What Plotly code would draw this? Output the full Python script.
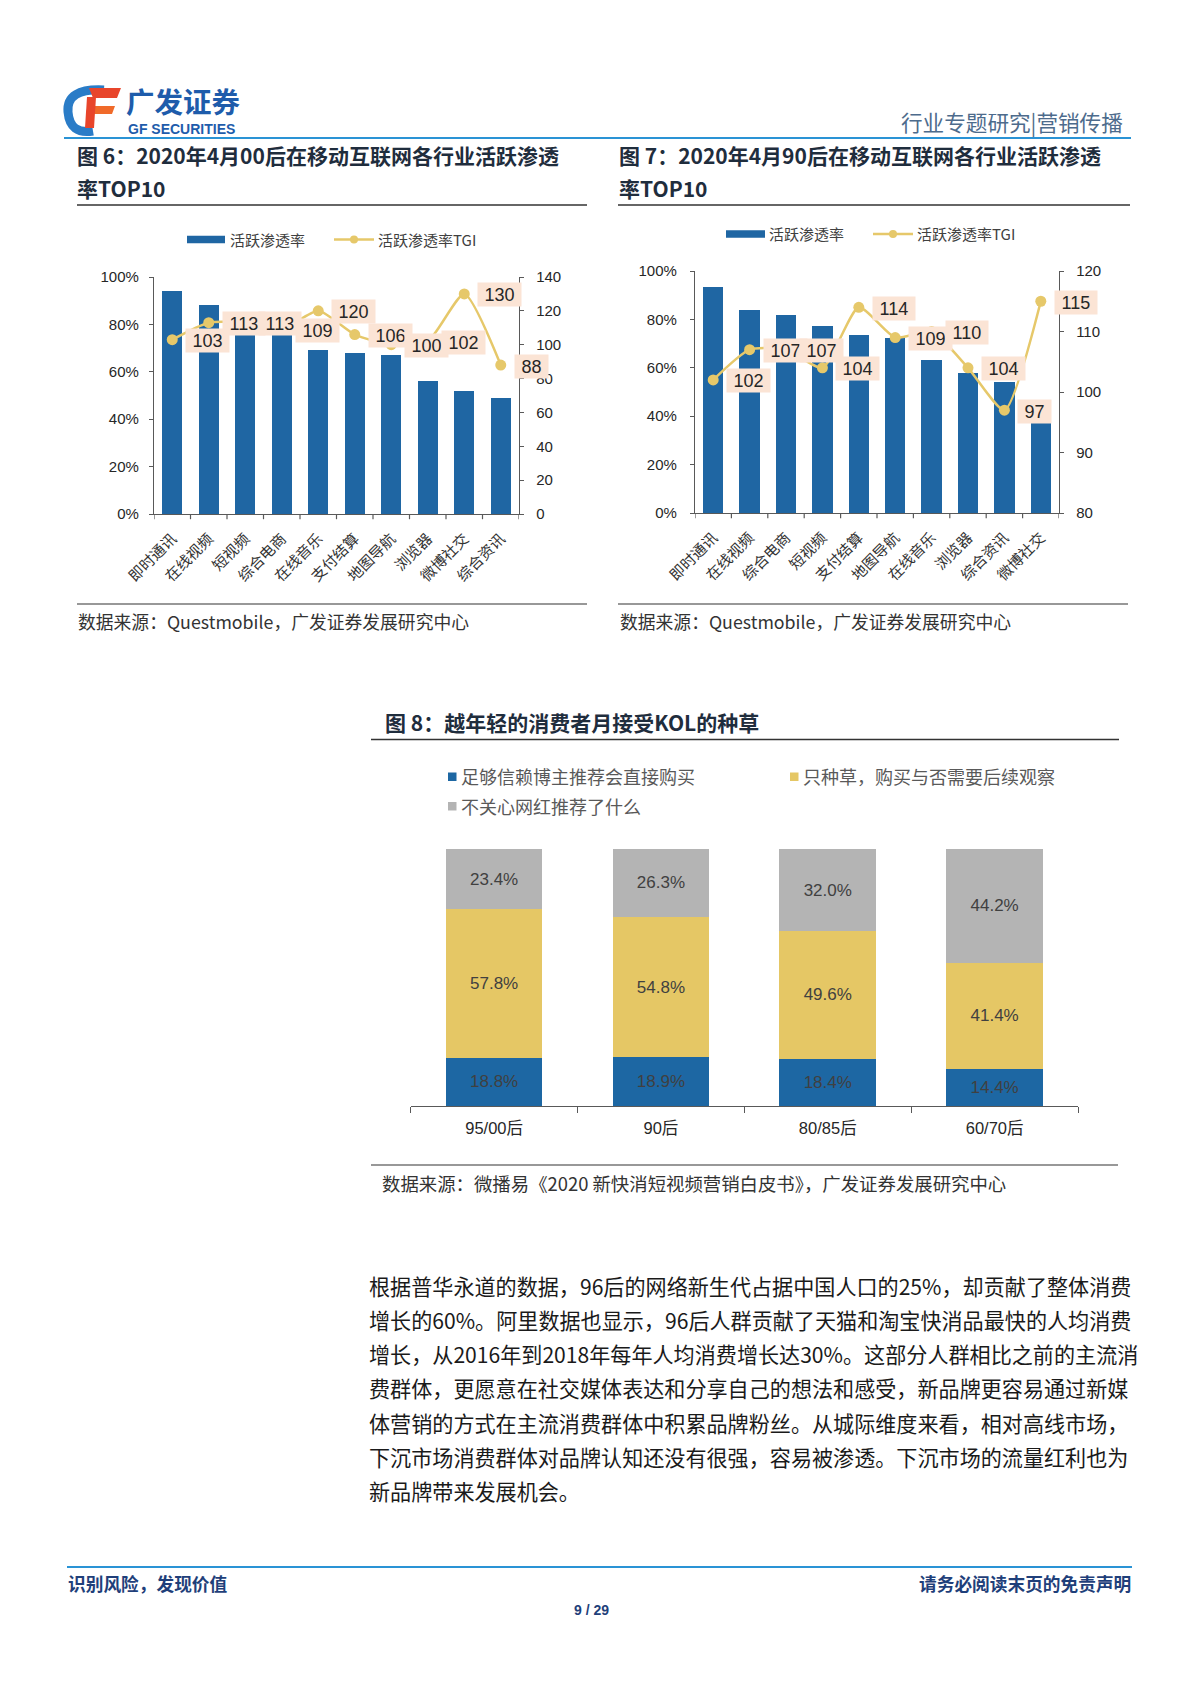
import plotly.graph_objects as go

# ---------------- data ----------------
cats6 = ['即时通讯', '在线视频', '短视频', '综合电商', '在线音乐', '支付结算', '地图导航', '浏览器', '微博社交', '综合资讯']
rate6 = [94.2, 88.1, 76.0, 75.5, 69.0, 68.0, 67.0, 56.1, 52.1, 49.0]
tgi6 = [103, 113, 113, 109, 120, 106, 100, 102, 130, 88]

cats7 = ['即时通讯', '在线视频', '综合电商', '短视频', '支付结算', '地图导航', '在线音乐', '浏览器', '综合资讯', '微博社交']
rate7 = [93.5, 83.7, 81.7, 77.2, 73.4, 72.5, 63.2, 57.8, 54.1, 46.4]
tgi7 = [102, 107, 107, 104, 114, 109, 110, 104, 97, 115]

groups8 = ['95/00后', '90后', '80/85后', '60/70后']
direct8 = [18.8, 18.9, 18.4, 14.4]
wait8 = [57.8, 54.8, 49.6, 41.4]
ignore8 = [23.4, 26.3, 32.0, 44.2]
names8 = ['足够信赖博主推荐会直接购买', '只种草，购买与否需要后续观察', '不关心网红推荐了什么']

pct_vals = [0, 20, 40, 60, 80, 100]
pct_text = ['0%', '20%', '40%', '60%', '80%', '100%']
tgi6_ticks = [0, 20, 40, 60, 80, 100, 120, 140]
tgi7_ticks = [80, 90, 100, 110, 120]

legend_bar = '活跃渗透率'
legend_line = '活跃渗透率TGI'

paragraph = [
    '根据普华永道的数据，96后的网络新生代占据中国人口的25%，却贡献了整体消费',
    '增长的60%。阿里数据也显示，96后人群贡献了天猫和淘宝快消品最快的人均消费',
    '增长，从2016年到2018年每年人均消费增长达30%。这部分人群相比之前的主流消',
    '费群体，更愿意在社交媒体表达和分享自己的想法和感受，新品牌更容易通过新媒',
    '体营销的方式在主流消费群体中积累品牌粉丝。从城际维度来看，相对高线市场，',
    '下沉市场消费群体对品牌认知还没有很强，容易被渗透。下沉市场的流量红利也为',
    '新品牌带来发展机会。',
]

# ---------------- style ----------------
W, H = 1200, 1698
BLUE = '#1F66A3'
GOLD = '#E6C86A'
YEL8 = '#E5C765'
GRAY8 = '#B4B4B4'
PEACH = '#FBE4D5'
AX = '#595959'
TXT = '#262626'
LAT = 'Liberation Sans, Noto Sans CJK SC'
CJK = 'Noto Sans CJK SC, Liberation Sans'
HBLUE = '#2A93D5'


def X(px):
    return px / W


def Y(py):
    return 1 - py / H


fig = go.Figure()

# chart 6
fig.add_trace(go.Bar(x=list(range(len(cats6))), y=rate6, xaxis='x', yaxis='y', marker=dict(color=BLUE, line=dict(width=0)),
                     width=0.56, showlegend=False, hoverinfo='skip'))
fig.add_trace(go.Scatter(x=list(range(len(cats6))), y=tgi6, xaxis='x', yaxis='y2', mode='lines+markers',
                         line=dict(color=GOLD, width=2.5, shape='spline', smoothing=0.6),
                         marker=dict(size=11, color=GOLD), showlegend=False, hoverinfo='skip', cliponaxis=False))
# chart 7
fig.add_trace(go.Bar(x=list(range(len(cats7))), y=rate7, xaxis='x2', yaxis='y3', marker=dict(color=BLUE, line=dict(width=0)),
                     width=0.56, showlegend=False, hoverinfo='skip'))
fig.add_trace(go.Scatter(x=list(range(len(cats7))), y=tgi7, xaxis='x2', yaxis='y4', mode='lines+markers',
                         line=dict(color=GOLD, width=2.5, shape='spline', smoothing=0.6),
                         marker=dict(size=11, color=GOLD), showlegend=False, hoverinfo='skip', cliponaxis=False))
# chart 8
for vals, col in zip([direct8, wait8, ignore8], ['#1D67A3', YEL8, GRAY8]):
    fig.add_trace(go.Bar(x=groups8, y=vals, xaxis='x3', yaxis='y5', marker=dict(color=col, line=dict(width=0)),
                         width=0.58, text=[f'{v:.1f}%' for v in vals], textposition='inside',
                         insidetextanchor='middle', textangle=0,
                         textfont=dict(size=17, color='#404040', family=LAT),
                         showlegend=False, hoverinfo='skip'))


def cat_axis(x0, x1, anchor, n, angle, size):
    return dict(domain=[X(x0), X(x1)], anchor=anchor, type='category', range=[-0.5, n - 0.5],
                showline=True, linecolor=AX, linewidth=1.3, ticks='outside', tickson='boundaries',
                ticklen=5, tickcolor=AX, tickwidth=1.2, tickangle=angle, showgrid=False, zeroline=False,
                tickfont=dict(size=size, color='#333333', family=CJK), fixedrange=True, automargin=False)


def val_axis(y_bot, y_top, anchor, rng, vals, texts, side='left', overlay=None, standoff=6):
    d = dict(anchor=anchor, range=rng, tickvals=vals, ticktext=texts, showline=True, linecolor=AX,
             linewidth=1.3, ticks='outside', ticklen=4, tickcolor=AX, tickwidth=1.2, showgrid=False,
             zeroline=False, side=side, tickfont=dict(size=15, color=TXT, family=LAT), fixedrange=True,
             ticklabelstandoff=standoff, automargin=False)
    if overlay:
        d['overlaying'] = overlay
    else:
        d['domain'] = [Y(y_bot), Y(y_top)]
    return d


# x-axis tick labels
xa = cat_axis(154, 519, 'y', len(cats6), -45, 15)
xa.update(tickvals=list(range(len(cats6))), ticktext=cats6)
xa2 = cat_axis(695, 1059, 'y3', len(cats7), -45, 15)
xa2.update(tickvals=list(range(len(cats7))), ticktext=cats7)
for a in (xa, xa2):
    a['type'] = 'linear'
    a['tickson'] = 'labels'
    a['ticks'] = ''
    a['ticklabelstandoff'] = 9
xa3 = cat_axis(410.7, 1078, 'y5', len(groups8), 0, 16.5)
xa3['tickfont'] = dict(size=16.5, color=TXT, family=LAT)
xa3['ticklen'] = 6
xa3['ticklabelstandoff'] = 7

fig.update_layout(
    width=W, height=H, autosize=False,
    margin=dict(l=0, r=0, t=0, b=0, pad=0, autoexpand=False),
    paper_bgcolor='white', plot_bgcolor='rgba(0,0,0,0)',
    barmode='stack', bargap=0.4,
    font=dict(family=LAT, color=TXT),
    xaxis=xa,
    yaxis=val_axis(514, 277, 'x', [0, 100], pct_vals, pct_text, standoff=7),
    yaxis2=val_axis(None, None, 'x', [0, 140], tgi6_ticks, [str(v) for v in tgi6_ticks], side='right',
                    overlay='y', standoff=9),
    xaxis2=xa2,
    yaxis3=val_axis(513, 271, 'x2', [0, 100], pct_vals, pct_text, standoff=10),
    yaxis4=val_axis(None, None, 'x2', [80, 120], tgi7_ticks, [str(v) for v in tgi7_ticks], side='right',
                    overlay='y3', standoff=9),
    xaxis3=xa3,
    yaxis5=dict(domain=[Y(1106), Y(849)], anchor='x3', range=[0, 100], visible=False, fixedrange=True,
                automargin=False),
)

shapes = []
annotations = []

# boundary ticks for chart 6 / 7 category axes (positioned via the axis scale)
for n, xr, yr in [(len(cats6), 'x', 'y'), (len(cats7), 'x2', 'y3')]:
    for k in range(n + 1):
        shapes.append(dict(type='line', xref=xr, yref=f'{yr} domain', x0=k - 0.5, x1=k - 0.5, y0=0, y1=-0.022,
                           line=dict(color=AX, width=1.2)))


def line(x0, x1, y0, y1, color, width):
    shapes.append(dict(type='line', xref='paper', yref='paper', x0=X(x0), x1=X(x1), y0=Y(y0), y1=Y(y1),
                       line=dict(color=color, width=width), layer='above'))


def rect(x0, x1, y0, y1, color):
    shapes.append(dict(type='rect', xref='paper', yref='paper', x0=X(x0), x1=X(x1), y0=Y(y0), y1=Y(y1),
                       fillcolor=color, line=dict(width=0), layer='above'))


def circ(cx, cy, r, color):
    shapes.append(dict(type='circle', xref='paper', yref='paper', x0=X(cx - r), x1=X(cx + r), y0=Y(cy - r),
                       y1=Y(cy + r), fillcolor=color, line=dict(width=0), layer='above'))


def text(x, y, s, size, color, anchor='left', family=CJK, bold=False):
    annotations.append(dict(x=X(x), y=Y(y), xref='paper', yref='paper', text=s, showarrow=False,
                            xanchor=anchor, yanchor='middle', align=anchor if anchor != 'center' else 'center',
                            font=dict(size=size, color=color, family=family, weight='bold' if bold else 'normal'),
                            borderpad=0))


def path(d, fill=None, stroke=None, width=0):
    s = dict(type='path', xref='paper', yref='paper', path=d, layer='above')
    if fill:
        s['fillcolor'] = fill
    s['line'] = dict(color=stroke if stroke else 'rgba(0,0,0,0)', width=width)
    shapes.append(s)


def poly(pts):
    return 'M ' + ' L '.join(f'{X(a):.5f},{Y(b):.5f}' for a, b in pts) + ' Z'


# ---------- header ----------
logo_blue = '#1E5CAB'
logo_red = '#E8452B'
path(f'M {X(104):.5f},{Y(90):.5f} Q {X(66):.5f},{Y(88):.5f} {X(68):.5f},{Y(112):.5f} '
     f'Q {X(70):.5f},{Y(135):.5f} {X(93):.5f},{Y(131):.5f}', stroke='#2A7CC7', width=9)
path(poly([(89, 88), (121, 88), (117, 98), (93, 98)]), fill=logo_red)
path(poly([(91, 106), (115, 106), (112, 114), (90, 114)]), fill='#F06A2A')
path(poly([(87, 97), (96, 97), (94, 128), (85, 128)]), fill=logo_red)
text(125, 100.5, '广发证券', 28.5, logo_blue, bold=True)
text(127, 129.5, 'GF SECURITIES', 14, logo_blue, family=LAT, bold=True)
text(1124, 121, '行业专题研究|营销传播', 21.6, '#4D6B8C', anchor='right')
line(64, 1131, 138, 138, HBLUE, 2.2)

# ---------- chart titles ----------
TCOL = '#1F2D3D'
text(76, 155, '图 6：2020年4月00后在移动互联网各行业活跃渗透', 21, TCOL, bold=True)
text(76, 187.5, '率TOP10', 21, TCOL, bold=True)
text(618, 155, '图 7：2020年4月90后在移动互联网各行业活跃渗透', 21, TCOL, bold=True)
text(618, 187.5, '率TOP10', 21, TCOL, bold=True)
line(77, 587, 205, 205, '#333333', 1.5)
line(618, 1130, 205, 205, '#333333', 1.5)

# ---------- legends charts 6/7 ----------
LEGC = '#404040'
for (rx0, rx1, tx1, lx0, lx1, tx2, ly) in [(187, 225, 229, 334, 374, 377, 239.5),
                                            (726, 765, 768, 873, 913, 916, 234)]:
    rect(rx0, rx1, ly - 3.8, ly + 3.8, BLUE)
    text(tx1, ly, legend_bar, 15, LEGC)
    line(lx0, lx1, ly, ly, GOLD, 2.5)
    circ((lx0 + lx1) / 2, ly, 4, GOLD)
    text(tx2, ly, legend_line, 15, LEGC)

# ---------- TGI data labels ----------
for xr, yr, vals in [('x', 'y2', tgi6), ('x2', 'y4', tgi7)]:
    for i, v in enumerate(vals):
        annotations.append(dict(x=i, y=v, xref=xr, yref=yr, text=f' {v} ', showarrow=False, xanchor='left',
                                yanchor='middle', xshift=13, yshift=-1, bgcolor=PEACH, borderpad=1.5,
                                font=dict(size=18, color=TXT, family=LAT)))

# ---------- sources ----------
line(77, 587, 604, 604, '#333333', 1.2)
line(618, 1128, 604, 604, '#333333', 1.2)
text(77, 621.5, '数据来源：Questmobile，广发证券发展研究中心', 17.8, '#333333')
text(619, 621.5, '数据来源：Questmobile，广发证券发展研究中心', 17.8, '#333333')

# ---------- chart 8 ----------
text(384, 722, '图 8：越年轻的消费者月接受KOL的种草', 21, TCOL, bold=True)
line(371, 1119, 739.5, 739.5, '#333333', 1.5)
rect(448, 456.5, 772.5, 781, '#1D67A3')
text(460, 776.5, names8[0], 18, '#595959')
rect(790, 798.5, 772.5, 781, YEL8)
text(802, 776.5, names8[1], 18, '#595959')
rect(448, 456.5, 802, 810.5, GRAY8)
text(460, 806, names8[2], 18, '#595959')
line(371, 1118, 1165, 1165, '#333333', 1.2)
text(381, 1183, '数据来源：微播易《2020 新快消短视频营销白皮书》，广发证券发展研究中心', 18.4, '#333333')

# ---------- paragraph ----------
for i, s in enumerate(paragraph):
    text(368, 1285.5 + i * 34.25, s, 21.1, '#1A1A1A')

# ---------- footer ----------
line(67, 1132, 1567, 1567, HBLUE, 2.2)
FCOL = '#1F3F7A'
text(67, 1583, '识别风险，发现价值', 17.7, FCOL, bold=True)
text(1132, 1583, '请务必阅读末页的免责声明', 17.7, FCOL, anchor='right', bold=True)
text(591, 1610, '9 / 29', 14, FCOL, anchor='center', family=LAT, bold=True)

fig.update_layout(shapes=shapes, annotations=annotations)

fig.write_html("out.html", config={'displayModeBar': False},
               post_script="document.body.style.margin='0';document.body.style.overflow='hidden';")
